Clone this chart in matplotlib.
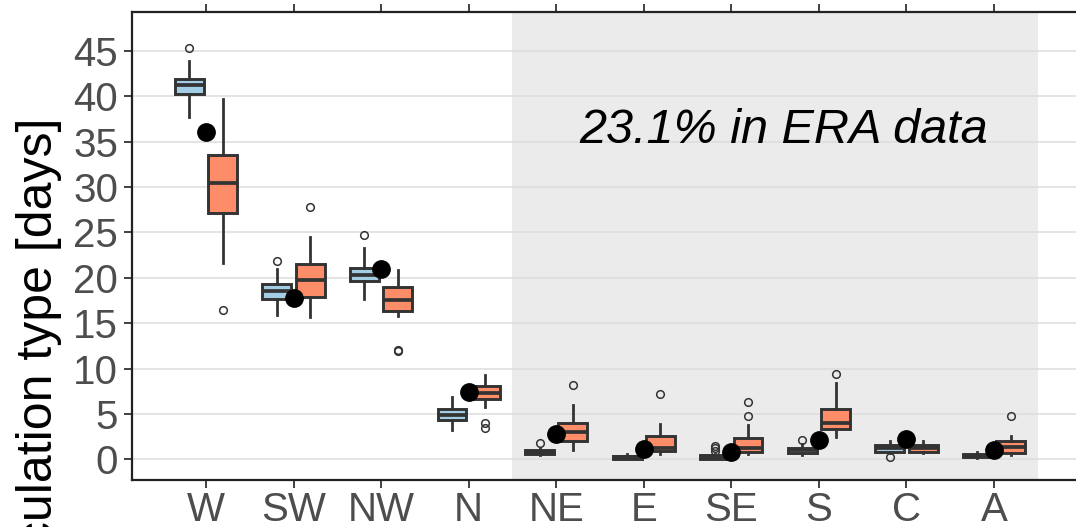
import matplotlib
matplotlib.use("Agg")
import matplotlib.pyplot as plt

plt.rcParams["font.family"] = ["Liberation Sans", "DejaVu Sans"]

# circulation types
cats = ["W", "SW", "NW", "N", "NE", "E", "SE", "S", "C", "A"]

# blue boxes: whisker low, q1, median, q3, whisker high, outliers
blue_lo = [37.7, 15.9, 17.7, 3.2, 0.5, 0.0, 0.0, 0.5, 0.66, 0.1]
blue_q1 = [40.2, 17.7, 19.6, 4.33, 0.6, 0.0, 0.0, 0.75, 0.84, 0.22]
blue_med = [41.2, 18.6, 20.3, 4.9, 0.8, 0.2, 0.2, 1.0, 1.2, 0.4]
blue_q3 = [41.9, 19.3, 21.05, 5.5, 1.0, 0.36, 0.45, 1.28, 1.58, 0.58]
blue_hi = [43.9, 21.0, 23.25, 6.9, 1.2, 0.55, 0.6, 1.65, 2.05, 0.84]
blue_out = [[45.3], [21.8], [24.7], [], [1.83], [], [0.95, 1.2, 1.47], [2.13], [0.22], []]

# orange boxes
orng_lo = [21.6, 15.7, 15.8, 5.8, 1.02, 0.6, 0.6, 2.5, 0.66, 0.5]
orng_q1 = [27.1, 17.9, 16.3, 6.6, 2.05, 0.9, 0.84, 3.3, 0.84, 0.73]
orng_med = [30.5, 19.8, 17.6, 7.3, 3.05, 1.3, 1.25, 4.03, 1.2, 1.39]
orng_q3 = [33.5, 21.5, 19.0, 8.1, 4.03, 2.6, 2.3, 5.5, 1.58, 2.05]
orng_hi = [39.7, 24.5, 20.9, 9.3, 6.0, 3.9, 3.78, 8.4, 2.05, 2.57]
orng_out = [[16.5], [27.8], [11.9, 12.1], [3.4, 4.0], [8.15], [7.2], [4.77, 6.28], [9.4], [], [4.77]]

# ERA values (black dots)
era = [36.1, 17.8, 21.0, 7.4, 2.75, 1.1, 0.77, 2.1, 2.24, 1.0]

yticks = [0, 5, 10, 15, 20, 25, 30, 35, 40, 45]

EDGE = "#333333"
BLUE = "#a3cde5"
ORNG = "#fc8d68"


def stats(lo, q1, med, q3, hi, out):
    return [dict(whislo=a, q1=b, med=c, q3=d, whishi=e, fliers=f)
            for a, b, c, d, e, f in zip(lo, q1, med, q3, hi, out)]


def draw_boxes(ax, st, pos, fill):
    ax.bxp(st, positions=pos, widths=0.33, patch_artist=True, showcaps=False,
           boxprops=dict(facecolor=fill, edgecolor=EDGE, linewidth=2.1),
           medianprops=dict(color=EDGE, linewidth=2.7),
           whiskerprops=dict(color=EDGE, linewidth=2.0),
           flierprops=dict(marker="o", markersize=5.5, markerfacecolor="none",
                           markeredgecolor=EDGE, markeredgewidth=1.1),
           manage_ticks=False, zorder=3)


fig = plt.figure(figsize=(10.76, 5.27), dpi=100)
ax = fig.add_axes([132 / 1076, 1 - 480 / 527, 1 - 132 / 1076, 468 / 527])

x = list(range(1, len(cats) + 1))
ax.axvspan(4.5, 10.5, color="#ebebeb", zorder=0.2, lw=0)

draw_boxes(ax, stats(blue_lo, blue_q1, blue_med, blue_q3, blue_hi, blue_out),
           [p - 0.19 for p in x], BLUE)
draw_boxes(ax, stats(orng_lo, orng_q1, orng_med, orng_q3, orng_hi, orng_out),
           [p + 0.19 for p in x], ORNG)
ax.plot(x, era, "o", color="black", markersize=12.5, zorder=5, linestyle="none")

ax.text(7.6, 36.2, "23.1% in ERA data", style="italic", fontsize=35,
        ha="center", va="center", zorder=6)

ax.set_xlim(0.155, 10.936)
ax.set_ylim(-2.28, 49.29)
ax.set_xticks(x)
ax.set_xticklabels(cats)
ax.set_yticks(yticks)
ax.set_axisbelow(True)
ax.grid(axis="y", color="#dcdcdc", linewidth=1.1)
ax.grid(axis="x", visible=False)

ax.tick_params(axis="both", colors=EDGE, labelcolor="#4d4d4d", labelsize=29,
               length=6, width=1.3)
ax.tick_params(axis="x", top=True, labeltop=False, pad=2)
ax.tick_params(axis="y", pad=4)
for side in ["left", "bottom", "top"]:
    ax.spines[side].set_color("#222222")
    ax.spines[side].set_linewidth(1.6)
ax.spines["right"].set_visible(False)

# shared y label; its start runs past the lower edge as in the source figure
fig.text(62 / 1076, 1 - 118 / 527, "Circulation type [days]", rotation=90,
         ha="right", va="top", fontsize=36, color="black")

fig.savefig("out.png", dpi=100)
